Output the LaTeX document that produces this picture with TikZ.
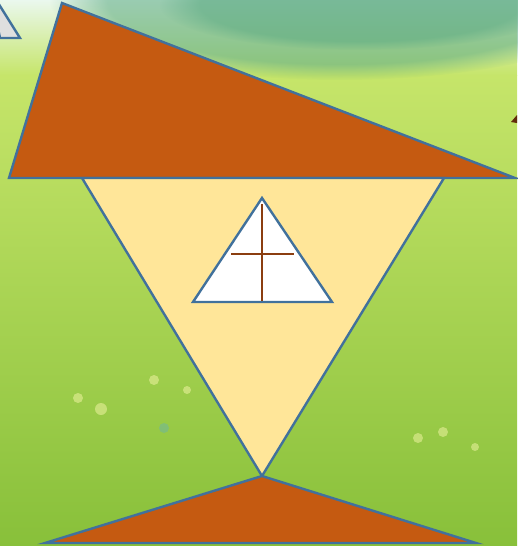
\documentclass[tikz,border=0pt]{standalone}
\usetikzlibrary{positioning,fadings}

\definecolor{rust}{HTML}{C55A11}
\definecolor{steel}{HTML}{41719C}
\definecolor{sand}{HTML}{FFE699}
\definecolor{crossbrown}{HTML}{8B3E10}
\definecolor{skypale}{HTML}{EAF8EE}
\definecolor{grasslight}{HTML}{C6E56A}
\definecolor{grassmid}{HTML}{B2DA58}
\definecolor{grassdark}{HTML}{88C03A}
\definecolor{leafteal}{HTML}{58A880}

\tikzset{
  edge/.style={draw=steel, line width=2.4pt, line join=miter},
  bokeh/.style={fill=#1, opacity=0.45}
}

\begin{document}
\begin{tikzpicture}[x=1pt, y=-1pt]
            \useasboundingbox (0,0) rectangle (517,546);

            % Background
            \shade[top color=skypale, bottom color=grasslight] (0,0) rectangle (517,75);
            \shade[top color=grasslight, middle color=grassmid, bottom color=grassdark] (0,75) rectangle (517,546);
            \fill[leafteal, opacity=0.55, path fading=circle with fuzzy edge 20 percent] (340,0) ellipse (290 and 80);
            \fill[leafteal, opacity=0.5, path fading=circle with fuzzy edge 20 percent] (360,5) ellipse (200 and 45);
            \fill[bokeh=white!70!yellow] (78,398) circle (5);
            \fill[bokeh=white!70!yellow] (101,409) circle (6);
            \fill[bokeh=white!70!yellow] (154,380) circle (5);
            \fill[bokeh=white!70!yellow] (187,390) circle (4);
            \fill[bokeh=teal!60] (164,428) circle (5);
            \fill[bokeh=white!70!yellow] (418,438) circle (5);
            \fill[bokeh=white!70!yellow] (443,432) circle (5);
            \fill[bokeh=white!70!yellow] (475,447) circle (4);
            \fill[crossbrown!70!black] (511,122) -- (517,115) -- (517,123) -- cycle;

            % Corner triangle
            \coordinate (g1) at (-10,-10);
            \coordinate (g2) at (0,38);
            \coordinate (g3) at (20,38);
            \filldraw[edge, fill=gray!25] (g1) -- (g3) -- (g2) -- cycle;

            % Roof
            \coordinate (r1) at (62,3);
            \coordinate (r2) at (9,178);
            \coordinate (r3) at (515,178);
            \filldraw[edge, fill=rust] (r1) -- (r2) -- (r3) -- cycle;

            % Body
            \coordinate (b1) at (82,178);
            \coordinate (b2) at (444,178);
            \coordinate (b3) at (262,476);
            \filldraw[edge, fill=sand] (b1) -- (b2) -- (b3) -- cycle;

            % Window
            \coordinate (w1) at (262,198);
            \coordinate (w2) at (193,302);
            \coordinate (w3) at (332,302);
            \filldraw[edge, fill=white] (w1) -- (w2) -- (w3) -- cycle;
            \coordinate (v1) at (262,204);
            \coordinate (v2) at (262,301);
            \coordinate (h1) at (231,254);
            \coordinate (h2) at (294,254);
            \draw[crossbrown, line width=1.8pt] (v1) -- (v2);
            \draw[crossbrown, line width=1.8pt] (h1) -- (h2);

            % Base
            \coordinate (f1) at (262,476);
            \coordinate (f2) at (45,543);
            \coordinate (f3) at (476,543);
            \filldraw[edge, fill=rust] (f1) -- (f2) -- (f3) -- cycle;
        \end{tikzpicture}
\end{document}
